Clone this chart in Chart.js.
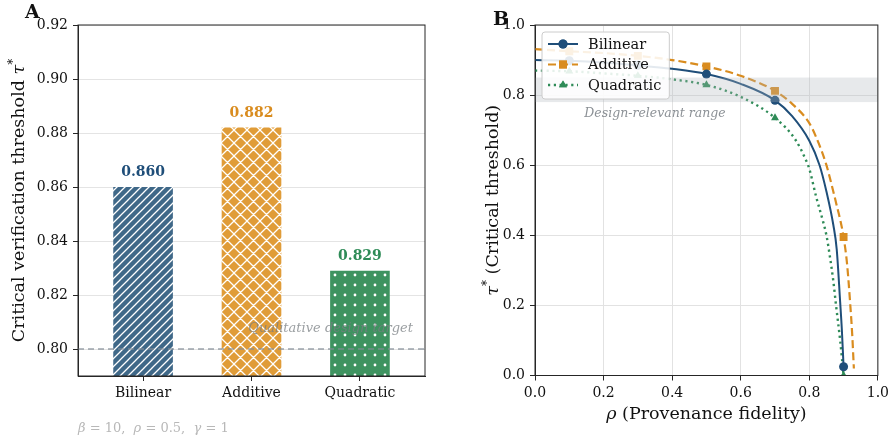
<!DOCTYPE html>
<html>
<head>
<meta charset="utf-8">
<script src="https://cdn.jsdelivr.net/npm/chart.js@4.4.1/dist/chart.umd.min.js"></script>
<style>
  html, body { margin: 0; padding: 0; background: #fff; }
  #wrap { position: relative; width: 893px; height: 441px; }
  canvas { position: absolute; top: 0; }
  #cA { left: 0; }
  #cB { left: 446px; }
</style>
</head>
<body>
<div id="wrap">
  <canvas id="cA" width="446" height="441"></canvas>
  <canvas id="cB" width="447" height="441"></canvas>
</div>
<script>
// ---- panel A: threshold per model ----
const models = ['Bilinear', 'Additive', 'Quadratic'];
const thresholds = [0.860, 0.882, 0.829];
const yTicksA = [0.80, 0.82, 0.84, 0.86, 0.88, 0.90, 0.92];
const targetValue = 0.80;

// ---- panel B: tau* vs rho ----
const rhoBilinear = [0, 0.1, 0.2, 0.3, 0.4, 0.5, 0.6, 0.7, 0.75, 0.8, 0.83, 0.85, 0.87, 0.88, 0.89, 0.895, 0.9];
const tauBilinear = [0.900, 0.898, 0.893, 0.885, 0.875, 0.860, 0.832, 0.785, 0.740, 0.670, 0.600, 0.525, 0.430, 0.360, 0.210, 0.130, 0.025];

const rhoAdditive = [0, 0.1, 0.2, 0.3, 0.4, 0.5, 0.6, 0.7, 0.75, 0.8, 0.82, 0.85, 0.87, 0.88, 0.89, 0.9, 0.91, 0.92, 0.925, 0.93];
const tauAdditive = [0.931, 0.925, 0.920, 0.912, 0.900, 0.882, 0.855, 0.812, 0.775, 0.720, 0.680, 0.600, 0.525, 0.485, 0.445, 0.395, 0.320, 0.195, 0.120, 0.020];

const rhoQuadratic = [0, 0.1, 0.2, 0.3, 0.4, 0.5, 0.6, 0.7, 0.76, 0.79, 0.8, 0.82, 0.84, 0.85, 0.86, 0.87, 0.878, 0.89, 0.9];
const tauQuadratic = [0.870, 0.868, 0.862, 0.855, 0.845, 0.829, 0.795, 0.735, 0.672, 0.615, 0.590, 0.510, 0.440, 0.400, 0.340, 0.270, 0.200, 0.100, 0.000];

const markerRho = [0.1, 0.3, 0.5, 0.7, 0.9];
const xTicksB = [0, 0.2, 0.4, 0.6, 0.8, 1.0];
const yTicksB = [0, 0.2, 0.4, 0.6, 0.8, 1.0];
const bandRange = [0.78, 0.85];

const BLUE = '#1f4e79', ORANGE = '#d98c1f', GREEN = '#2e8b57';
const SERIF = '"DejaVu Serif", serif';
const AXIS = '#262626';

// hatched fills for the bars
function hatch(bg, kind) {
  const s = kind === 'x' ? 13 : (kind === '.' ? 10 : 8);
  const c = document.createElement('canvas');
  c.width = c.height = s;
  const g = c.getContext('2d');
  g.fillStyle = bg; g.fillRect(0, 0, s, s);
  g.strokeStyle = '#fff'; g.fillStyle = '#fff'; g.lineWidth = 1.3;
  g.beginPath();
  if (kind === '/' || kind === 'x') {
    g.moveTo(-1, s + 1); g.lineTo(s + 1, -1);
    g.moveTo(-2, 2); g.lineTo(2, -2);
    g.moveTo(s - 2, s + 2); g.lineTo(s + 2, s - 2);
  }
  if (kind === 'x') {
    g.moveTo(-1, -1); g.lineTo(s + 1, s + 1);
    g.moveTo(-2, s - 2); g.lineTo(2, s + 2);
    g.moveTo(s - 2, -2); g.lineTo(s + 2, 2);
  }
  g.stroke();
  if (kind === '.') {
    g.beginPath(); g.arc(s / 2, s / 2, 1.4, 0, Math.PI * 2); g.fill();
  }
  return g.createPattern(c, 'repeat');
}

// draw a run of text pieces with own fonts (for math-ish labels)
function richText(ctx, parts, x, y, align) {
  let w = 0;
  parts.forEach(p => { ctx.font = p.font; w += ctx.measureText(p.t).width; });
  let cx = align === 'center' ? x - w / 2 : x;
  ctx.textAlign = 'left';
  parts.forEach(p => {
    ctx.font = p.font;
    ctx.fillText(p.t, cx, y + (p.dy || 0));
    cx += ctx.measureText(p.t).width;
  });
}

function boxPlugin(id) {
  return {
    id: id,
    afterDraw(chart) {
      const { ctx, chartArea: a } = chart;
      ctx.save();
      ctx.strokeStyle = AXIS; ctx.lineWidth = 1;
      ctx.strokeRect(a.left, a.top, a.right - a.left, a.bottom - a.top);
      ctx.restore();
    }
  };
}

// ---------------- Panel A ----------------
const barFills = [hatch('#3f6888', '/'), hatch('#e09c38', 'x'), hatch('#3e9360', '.')];
const labelColors = [BLUE, ORANGE, GREEN];

const panelAExtras = {
  id: 'panelAExtras',
  afterDatasetsDraw(chart) {
    const { ctx, chartArea: a, scales } = chart;
    const yTarget = scales.y.getPixelForValue(targetValue);
    ctx.save();
    ctx.strokeStyle = 'rgba(130,140,150,0.8)'; ctx.lineWidth = 1.3;
    ctx.setLineDash([6, 4]);
    ctx.beginPath(); ctx.moveTo(a.left, yTarget); ctx.lineTo(a.right, yTarget); ctx.stroke();
    ctx.setLineDash([]);
    ctx.fillStyle = 'rgba(120,125,130,0.75)';
    ctx.font = 'italic 13px ' + SERIF;
    ctx.textAlign = 'right'; ctx.textBaseline = 'alphabetic';
    ctx.fillText('Qualitative design target', a.right - 12, yTarget - 17);

    const meta = chart.getDatasetMeta(0);
    ctx.font = 'bold 14px ' + SERIF;
    ctx.textAlign = 'center';
    meta.data.forEach((bar, i) => {
      ctx.fillStyle = labelColors[i];
      ctx.fillText(thresholds[i].toFixed(3), bar.x, bar.y - 11);
    });
    ctx.restore();
  },
  afterDraw(chart) {
    const { ctx, chartArea: a } = chart;
    ctx.save();
    ctx.fillStyle = '#111';
    ctx.font = 'bold 19px ' + SERIF;
    ctx.textBaseline = 'alphabetic';
    ctx.fillText('A', 25, 18);

    ctx.translate(24, (a.top + a.bottom) / 2);
    ctx.rotate(-Math.PI / 2);
    ctx.fillStyle = '#111';
    richText(ctx, [
      { t: 'Critical verification threshold ', font: '17.5px ' + SERIF },
      { t: '\u03c4', font: 'italic 17.5px ' + SERIF },
      { t: '*', font: '12px ' + SERIF, dy: -7 }
    ], 0, 0, 'center');
    ctx.restore();

    ctx.save();
    ctx.fillStyle = '#b8b8b8';
    richText(ctx, [
      { t: '\u03b2', font: 'italic 13px ' + SERIF },
      { t: ' = 10,  ', font: '13px ' + SERIF },
      { t: '\u03c1', font: 'italic 13px ' + SERIF },
      { t: ' = 0.5,  ', font: '13px ' + SERIF },
      { t: '\u03b3', font: 'italic 13px ' + SERIF },
      { t: ' = 1', font: '13px ' + SERIF }
    ], a.left, 432, 'left');
    ctx.restore();
  }
};

new Chart(document.getElementById('cA'), {
  type: 'bar',
  data: {
    datasets: [{
      data: models.map((m, i) => ({ x: i, y: thresholds[i] })),
      backgroundColor: barFills,
      borderWidth: 0,
      barPercentage: 0.55,
      categoryPercentage: 1
    }]
  },
  options: {
    responsive: false,
    animation: false,
    layout: { padding: { top: 25, right: 21, left: 0, bottom: 0 } },
    plugins: { legend: { display: false }, tooltip: { enabled: false } },
    scales: {
      x: {
        type: 'linear', min: -0.6, max: 2.6, offset: false,
        afterBuildTicks: s => { s.ticks = models.map((m, i) => ({ value: i })); },
        afterFit: s => { s.height = 65; },
        ticks: { callback: v => models[v], font: { family: SERIF, size: 14 }, color: '#111', padding: 4, maxRotation: 0 },
        grid: { drawOnChartArea: false, offset: false, tickLength: 5, tickColor: AXIS },
        border: { color: AXIS }
      },
      y: {
        min: 0.79, max: 0.92,
        afterBuildTicks: s => { s.ticks = yTicksA.map(v => ({ value: v })); },
        afterFit: s => { s.width = 78; },
        ticks: { callback: v => v.toFixed(2), font: { family: SERIF, size: 14 }, color: '#111', padding: 5 },
        grid: { color: '#e4e4e4', tickLength: 5, tickColor: AXIS },
        border: { color: AXIS }
      }
    }
  },
  plugins: [panelAExtras, boxPlugin('boxA')]
});

// ---------------- Panel B ----------------
function pts(xs, ys) { return xs.map((x, i) => ({ x: x, y: ys[i] })); }
function isMarker(ctx) {
  return ctx.raw && markerRho.some(m => Math.abs(m - ctx.raw.x) < 1e-9);
}

const seriesB = [
  { label: 'Bilinear', data: pts(rhoBilinear, tauBilinear), color: BLUE, dash: [], style: 'circle', r: 4.5, w: 2 },
  { label: 'Additive', data: pts(rhoAdditive, tauAdditive), color: ORANGE, dash: [8, 4], style: 'rect', r: 5.6, w: 2.2 },
  { label: 'Quadratic', data: pts(rhoQuadratic, tauQuadratic), color: GREEN, dash: [2.2, 3.6], style: 'triangle', r: 4.6, w: 2.4 }
];

const panelBExtras = {
  id: 'panelBExtras',
  afterDatasetsDraw(chart) {
    const { ctx, chartArea: a, scales } = chart;
    ctx.save();
    const yTop = scales.y.getPixelForValue(bandRange[1]);
    const yBot = scales.y.getPixelForValue(bandRange[0]);
    ctx.fillStyle = 'rgba(175,182,190,0.3)';
    ctx.fillRect(a.left, yTop, a.right - a.left, yBot - yTop);
    ctx.fillStyle = '#8c9196';
    ctx.font = 'italic 12.5px ' + SERIF;
    ctx.textAlign = 'center'; ctx.textBaseline = 'middle';
    ctx.fillText('Design-relevant range', scales.x.getPixelForValue(0.35), scales.y.getPixelForValue(0.746));

    // legend
    const x0 = a.left + 7, y0 = a.top + 7;
    ctx.font = '14.5px ' + SERIF;
    const tw = Math.max(...seriesB.map(s => ctx.measureText(s.label).width));
    const bw = 6 + 30 + 10 + tw + 8, bh = 67;
    ctx.fillStyle = 'rgba(255,255,255,0.88)';
    ctx.strokeStyle = '#cccccc'; ctx.lineWidth = 1;
    ctx.beginPath(); ctx.roundRect(x0, y0, bw, bh, 3); ctx.fill(); ctx.stroke();
    seriesB.forEach((s, i) => {
      const cy = y0 + 12 + i * 20.5;
      ctx.strokeStyle = s.color; ctx.lineWidth = s.w; ctx.setLineDash(s.dash);
      ctx.beginPath(); ctx.moveTo(x0 + 6, cy); ctx.lineTo(x0 + 36, cy); ctx.stroke();
      ctx.setLineDash([]);
      ctx.fillStyle = s.color;
      Chart.helpers.drawPoint(ctx, { pointStyle: s.style, radius: s.r, rotation: 0, borderWidth: 0 }, x0 + 21, cy);
      ctx.fill();
      ctx.fillStyle = '#111';
      ctx.textAlign = 'left'; ctx.textBaseline = 'middle';
      ctx.fillText(s.label, x0 + 46, cy + 1);
    });
    ctx.restore();
  },
  afterDraw(chart) {
    const { ctx, chartArea: a } = chart;
    ctx.save();
    ctx.fillStyle = '#111';
    ctx.font = 'bold 19px ' + SERIF;
    ctx.textBaseline = 'alphabetic';
    ctx.fillText('B', 47, 25);

    richText(ctx, [
      { t: '\u03c1', font: 'italic 17.5px ' + SERIF },
      { t: ' (Provenance fidelity)', font: '17.5px ' + SERIF }
    ], (a.left + a.right) / 2, 419, 'center');

    ctx.translate(52, (a.top + a.bottom) / 2);
    ctx.rotate(-Math.PI / 2);
    richText(ctx, [
      { t: '\u03c4', font: 'italic 17.5px ' + SERIF },
      { t: '*', font: '12px ' + SERIF, dy: -7 },
      { t: ' (Critical threshold)', font: '17.5px ' + SERIF }
    ], 0, 0, 'center');
    ctx.restore();
  }
};

new Chart(document.getElementById('cB'), {
  type: 'line',
  data: {
    datasets: seriesB.map(s => ({
      label: s.label,
      data: s.data,
      borderColor: s.color,
      backgroundColor: s.color,
      borderWidth: s.w,
      borderDash: s.dash,
      pointStyle: s.style,
      pointRadius: ctx => isMarker(ctx) ? s.r : 0,
      pointBorderWidth: 0,
      pointBackgroundColor: s.color,
      fill: false,
      cubicInterpolationMode: 'monotone'
    }))
  },
  options: {
    responsive: false,
    animation: false,
    layout: { padding: { top: 25, right: 12, left: 0, bottom: 0 } },
    plugins: { legend: { display: false }, tooltip: { enabled: false } },
    scales: {
      x: {
        type: 'linear', min: 0, max: 1,
        afterBuildTicks: s => { s.ticks = xTicksB.map(v => ({ value: v })); },
        afterFit: s => { s.height = 65.5; },
        ticks: { callback: v => v.toFixed(1), font: { family: SERIF, size: 14 }, color: '#111', padding: 4, maxRotation: 0 },
        grid: { color: '#e2e2e2', tickLength: 5, tickColor: AXIS },
        border: { color: AXIS }
      },
      y: {
        min: 0, max: 1,
        afterBuildTicks: s => { s.ticks = yTicksB.map(v => ({ value: v })); },
        afterFit: s => { s.width = 89; },
        ticks: { callback: v => v.toFixed(1), font: { family: SERIF, size: 14 }, color: '#111', padding: 5 },
        grid: { color: '#e2e2e2', tickLength: 5, tickColor: AXIS },
        border: { color: AXIS }
      }
    }
  },
  plugins: [panelBExtras, boxPlugin('boxB')]
});
</script>
</body>
</html>
